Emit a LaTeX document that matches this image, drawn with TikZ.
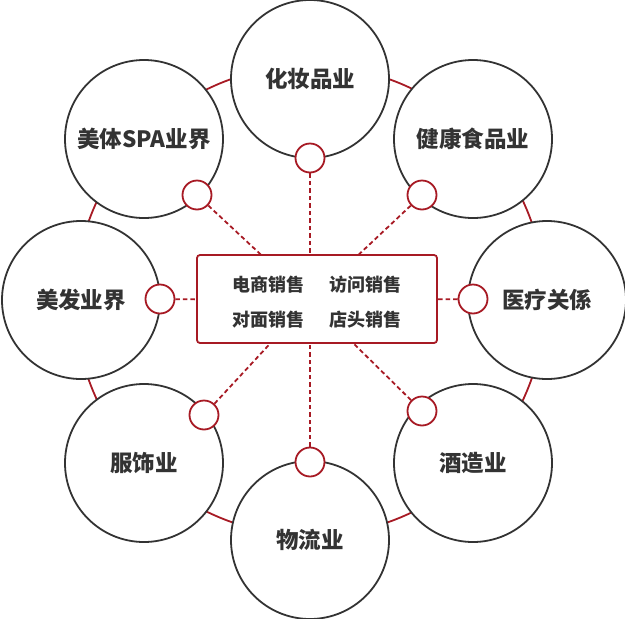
\documentclass[tikz,border=0pt]{standalone}
\usepackage{fontspec}
\newfontfamily\cjk{Noto Sans CJK SC}
\definecolor{ringred}{RGB}{167,26,36}
\definecolor{txtgray}{RGB}{51,51,51}
\begin{document}
\begin{tikzpicture}[x=1pt,y=-1pt,
  bigc/.style={circle,draw=txtgray,line width=1.8pt,fill=white,minimum size=158pt,inner sep=0pt,
    font=\cjk\bfseries\fontsize{22.5}{26}\selectfont,text=txtgray},
  smallc/.style={circle,draw=ringred,line width=1.8pt,fill=white,minimum size=29pt,inner sep=0pt},
  dashlink/.style={draw=ringred,line width=1.8pt,dash pattern=on 4.5pt off 3pt},
  boxtxt/.style={font=\cjk\bfseries\fontsize{18}{21}\selectfont,text=txtgray,inner sep=0pt}]
\useasboundingbox (0,0) rectangle (625,619);
% ring
\coordinate (ctr) at (310,300.5);
\node[draw=ringred,line width=1.8pt,circle,minimum size=470pt,inner sep=0pt] (ring) at (ctr) {};
% big circles
\node[bigc] (top) at (310,79) {化妆品业};
\node[bigc] (tl) at (144,139) {美体SPA业界};
\node[bigc] (tr) at (473,139) {健康食品业};
\node[bigc] (l) at (81,300) {美发业界};
\node[bigc] (r) at (547,300) {医疗关係};
\node[bigc] (bl) at (144,463) {服饰业};
\node[bigc] (br) at (473,463) {酒造业};
\node[bigc] (b) at (310,540) {物流业};
% small circles
\node[smallc] (st) at (310,158) {};
\node[smallc] (stl) at (197,195) {};
\node[smallc] (str) at (422,195) {};
\node[smallc] (sl) at (160,299) {};
\node[smallc] (sr) at (473,299) {};
\node[smallc] (sbl) at (204,415) {};
\node[smallc] (sbr) at (422,411) {};
\node[smallc] (sb) at (310,462) {};
% dashed links
\foreach \s in {st,stl,str,sl,sr,sbl,sbr,sb}{\draw[dashlink] (\s) -- (ctr);}
% center box
\node[draw=ringred,line width=1.8pt,fill=white,rounded corners=3pt,minimum width=240pt,minimum height=88pt,inner sep=0pt] (box) at (317,299) {};
\node[boxtxt] (t1) at (268,285) {电商销售};
\node[boxtxt] (t2) at (365,285) {访问销售};
\node[boxtxt] (t3) at (268,320) {对面销售};
\node[boxtxt] (t4) at (365,320) {店头销售};
\end{tikzpicture}
\end{document}
